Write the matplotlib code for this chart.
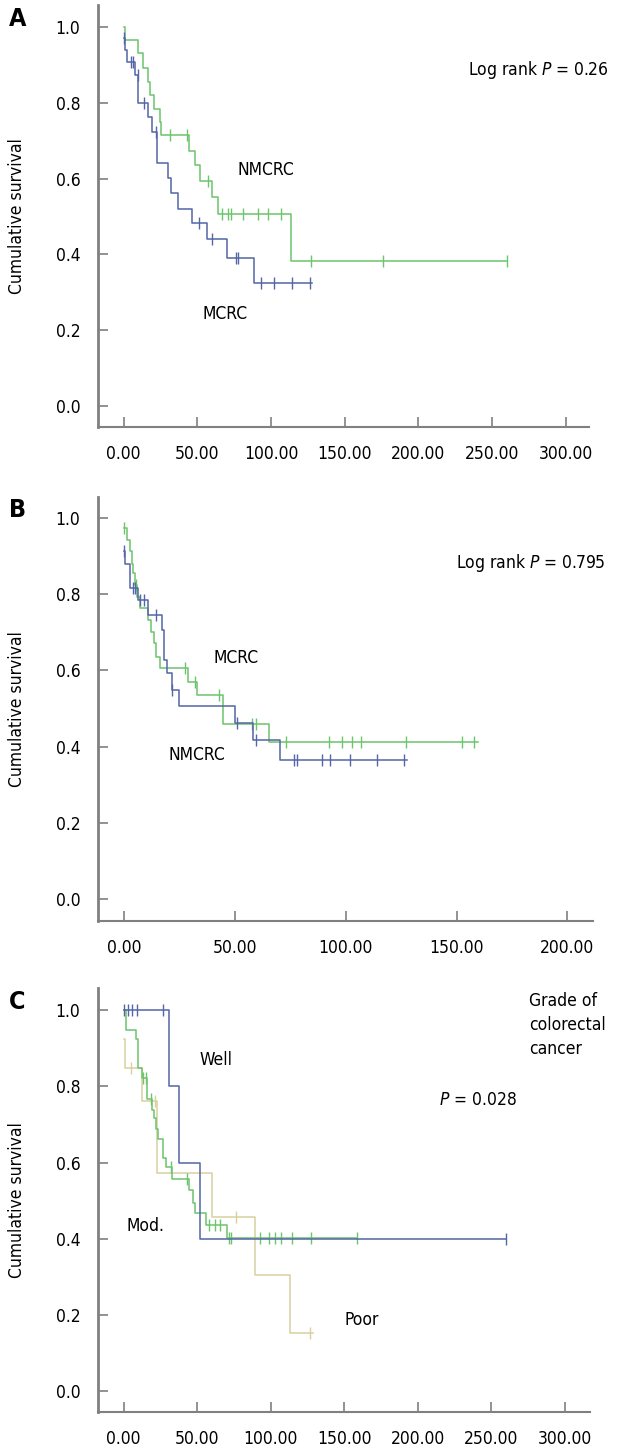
import numpy as np
import matplotlib
matplotlib.use("Agg")
import matplotlib.pyplot as plt

plt.rcParams['font.family'] = ['DejaVu Sans']
plt.rcParams['font.stretch'] = 'condensed'
plt.rcParams['mathtext.fontset'] = 'dejavusans'

# colours
azul = '#5466a6'
verde = '#6cc46c'
bege = '#d9d0a0'
cinza = '#808080'

# ---------- panel A: MCRC vs NMCRC (step times, survival after the step)
a_nm_t = [0, 0.9, 9.9, 13.3, 16.7, 18.0, 20.5, 24.5, 25.5, 44.5, 48.4, 51.8, 60.1, 64.2, 113.3, 260]
a_nm_s = [1.0, 0.966, 0.931, 0.893, 0.856, 0.821, 0.785, 0.750, 0.715, 0.674, 0.636, 0.594, 0.552, 0.508, 0.383, 0.383]
a_nm_ct = [31.4, 43.2, 57.4, 66.5, 70.5, 72.6, 81.2, 91.3, 98.1, 106.7, 126.9, 176, 260]
a_nm_cs = [0.715, 0.715, 0.594, 0.508, 0.508, 0.508, 0.508, 0.508, 0.508, 0.508, 0.383, 0.383, 0.383]

a_m_t = [0, 0.9, 2.0, 7.7, 9.9, 16.7, 19.0, 22.6, 30.4, 32.2, 36.7, 46.5, 56.3, 70.3, 88.6, 128]
a_m_s = [0.970, 0.939, 0.908, 0.873, 0.800, 0.763, 0.724, 0.642, 0.601, 0.563, 0.521, 0.482, 0.440, 0.391, 0.324, 0.324]
a_m_ct = [0.2, 5.0, 6.5, 9.9, 14.0, 22.0, 51.1, 59.7, 76.2, 77.4, 93.2, 102, 114, 126.4]
a_m_cs = [0.970, 0.908, 0.908, 0.873, 0.800, 0.724, 0.482, 0.440, 0.391, 0.391, 0.324, 0.324, 0.324, 0.324]

# ---------- panel B
b_nm_t = [0, 1.6, 2.8, 3.6, 4.3, 5.1, 6.0, 7.4, 10.8, 12.2, 13.5, 14.6, 16.4, 29.1, 32.9, 44.9, 65.6, 159.9]
b_nm_s = [0.974, 0.942, 0.913, 0.880, 0.854, 0.824, 0.793, 0.763, 0.732, 0.701, 0.671, 0.636, 0.605, 0.570, 0.535, 0.459, 0.413, 0.413]
b_nm_ct = [0.1, 5.5, 27.6, 32.1, 42.7, 57.7, 59.6, 73.2, 92.3, 98.3, 102.8, 107, 127.1, 152.4, 158.1]
b_nm_cs = [0.974, 0.824, 0.605, 0.570, 0.535, 0.459, 0.459, 0.413, 0.413, 0.413, 0.413, 0.413, 0.413, 0.413, 0.413]

b_m_t = [0, 0.6, 2.8, 6.6, 11.1, 17.1, 18.0, 19.4, 21.6, 24.9, 50.2, 58.4, 70.2, 127.6]
b_m_s = [0.913, 0.879, 0.815, 0.784, 0.745, 0.706, 0.627, 0.592, 0.548, 0.507, 0.461, 0.417, 0.365, 0.365]
b_m_ct = [0.1, 4.0, 5.0, 7.2, 9.0, 14.6, 21.9, 50.9, 59.4, 76.5, 78.0, 89.3, 93.0, 102.0, 114.3, 126.4]
b_m_cs = [0.913, 0.815, 0.815, 0.784, 0.784, 0.745, 0.548, 0.461, 0.417, 0.365, 0.365, 0.365, 0.365, 0.365, 0.365, 0.365]

# ---------- panel C: grade
c_well_t = [0, 30.7, 37.5, 51.8, 260]
c_well_s = [1.0, 0.80, 0.60, 0.40, 0.40]
c_well_ct = [0, 3.1, 5.8, 9.2, 26.9, 260]
c_well_cs = [1.0, 1.0, 1.0, 1.0, 1.0, 0.40]

c_mod_t = [0, 1.6, 8.1, 9.9, 12.2, 15.6, 19.0, 20.6, 21.9, 23.5, 26.9, 28.5, 33.2, 44.5, 47.2, 48.4, 56.3, 70.1, 158.4]
c_mod_s = [1.0, 0.949, 0.923, 0.847, 0.821, 0.768, 0.738, 0.716, 0.689, 0.663, 0.611, 0.589, 0.556, 0.528, 0.493, 0.467, 0.436, 0.401, 0.401]
c_mod_ct = [13.0, 15.0, 18.5, 32.1, 43.4, 58.0, 62.0, 65.3, 71.7, 72.8, 92.4, 99.1, 102.6, 107.2, 114.8, 127.4, 158.4]
c_mod_cs = [0.821, 0.821, 0.768, 0.589, 0.556, 0.436, 0.436, 0.436, 0.401, 0.401, 0.401, 0.401, 0.401, 0.401, 0.401, 0.401, 0.401]

c_poor_t = [0, 0.9, 12.6, 23.0, 60.1, 89.1, 113.4, 128.8]
c_poor_s = [0.923, 0.847, 0.761, 0.573, 0.457, 0.304, 0.153, 0.153]
c_poor_ct = [4.7, 21.2, 76.7, 126.4]
c_poor_cs = [0.847, 0.761, 0.457, 0.153]

ticks_y = [0.0, 0.2, 0.4, 0.6, 0.8, 1.0]

fig = plt.figure(figsize=(6.23, 14.49), dpi=100)
axA = fig.add_axes([0.1578, 0.7053, 0.7876, 0.2912])
axB = fig.add_axes([0.1578, 0.3646, 0.7936, 0.2926])
axC = fig.add_axes([0.1578, 0.0253, 0.7890, 0.2928])


def curva(ax, t, s, ct, cs, cor):
    ax.step(t, s, where='post', color=cor, lw=1.1)
    ax.plot(ct, cs, '|', color=cor, ms=8, mew=1.0)


def eixos(ax, xt, xlim, ylim):
    for lado in ['top', 'right']:
        ax.spines[lado].set_visible(False)
    ax.spines['left'].set_color(cinza)
    ax.spines['left'].set_linewidth(2.0)
    ax.spines['bottom'].set_color(cinza)
    ax.spines['bottom'].set_linewidth(1.5)
    ax.set_xlim(xlim)
    ax.set_ylim(ylim)
    ax.set_xticks(xt)
    ax.set_xticklabels(['%.2f' % v for v in xt])
    ax.set_yticks(ticks_y)
    ax.set_yticklabels(['%.1f' % v for v in ticks_y])
    ax.tick_params(direction='in', length=7, width=1.2, color=cinza, pad=13, labelsize=12.5)
    ax.set_ylabel('Cumulative survival', fontsize=12.5)
    ax.yaxis.set_label_coords(-0.147, 0.5)


# A
curva(axA, a_nm_t, a_nm_s, a_nm_ct, a_nm_cs, verde)
curva(axA, a_m_t, a_m_s, a_m_ct, a_m_cs, azul)
eixos(axA, [0, 50, 100, 150, 200, 250, 300], (-17.2, 315.7), (-0.0554, 1.058))
axA.text(233.6, 0.887, 'Log rank $P$ = 0.26', fontsize=12.5, va='center')
axA.text(76.9, 0.623, 'NMCRC', fontsize=12.5, va='center')
axA.text(53.8, 0.243, 'MCRC', fontsize=12.5, va='center')

# B
curva(axB, b_nm_t, b_nm_s, b_nm_ct, b_nm_cs, verde)
curva(axB, b_m_t, b_m_s, b_m_ct, b_m_cs, azul)
eixos(axB, [0, 50, 100, 150, 200], (-11.5, 211.4), (-0.056, 1.055))
axB.text(149.8, 0.881, 'Log rank $P$ = 0.795', fontsize=12.5, va='center')
axB.text(40.3, 0.632, 'MCRC', fontsize=12.5, va='center')
axB.text(20.0, 0.378, 'NMCRC', fontsize=12.5, va='center')

# C
curva(axC, c_poor_t, c_poor_s, c_poor_ct, c_poor_cs, bege)
curva(axC, c_mod_t, c_mod_s, c_mod_ct, c_mod_cs, verde)
curva(axC, c_well_t, c_well_s, c_well_ct, c_well_cs, azul)
eixos(axC, [0, 50, 100, 150, 200, 250, 300], (-17.2, 317), (-0.056, 1.058))
axC.text(275.6, 1.048, 'Grade of\ncolorectal\ncancer', fontsize=12.5, va='top', linespacing=1.45)
axC.text(214.6, 0.764, '$P$ = 0.028', fontsize=12.5, va='center')
axC.text(51.8, 0.869, 'Well', fontsize=12.5, va='center')
axC.text(2.2, 0.433, 'Mod.', fontsize=12.5, va='center')
axC.text(150, 0.186, 'Poor', fontsize=12.5, va='center')

# panel letters
fig.text(17.5 / 623, 1 - 19.5 / 1449, 'A', fontsize=18, fontweight='bold', ha='center', va='center')
fig.text(18 / 623, 1 - 510 / 1449, 'B', fontsize=18, fontweight='bold', ha='center', va='center')
fig.text(17.5 / 623, 1 - 1002 / 1449, 'C', fontsize=18, fontweight='bold', ha='center', va='center')

fig.savefig('out.png', dpi=100)
